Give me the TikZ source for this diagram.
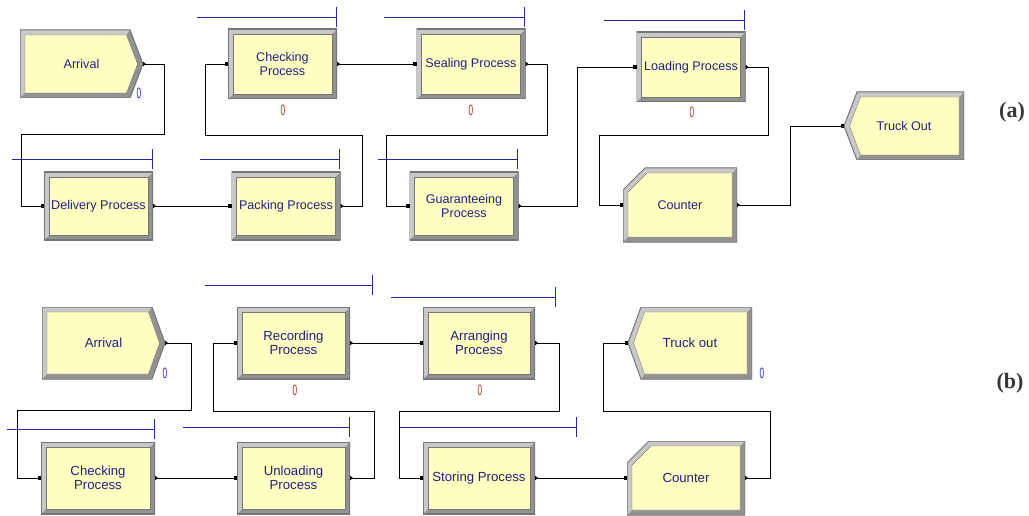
\documentclass[tikz,border=0pt]{standalone}
\usepackage{fontspec}
\setmainfont{Liberation Serif}
\setsansfont{Liberation Sans}
\usepackage{graphicx}
\usepackage{tikz}
\usetikzlibrary{arrows.meta,positioning}

\definecolor{boxfill}{RGB}{255,255,194}
\definecolor{bevlight}{RGB}{200,200,200}
\definecolor{bevdark}{RGB}{146,146,146}
\definecolor{bevedge}{RGB}{118,118,118}
\definecolor{txtblue}{RGB}{32,32,128}
\definecolor{qblue}{RGB}{40,40,165}
\definecolor{numred}{RGB}{175,55,30}
\definecolor{numblue}{RGB}{40,40,215}
\definecolor{lblgray}{RGB}{55,55,55}

% corner points of the block being drawn
\newcommand{\bbpts}{\path (path picture bounding box.south west) coordinate (sw)
  (path picture bounding box.north west) coordinate (nw)
  (path picture bounding box.north east) coordinate (ne)
  (path picture bounding box.south east) coordinate (se)
  (path picture bounding box.east) coordinate (e)
  (path picture bounding box.west) coordinate (w);}

\tikzset{
  blk/.style={inner sep=0pt, outer sep=0pt, align=center, text=txtblue,
    font=\sffamily\fontsize{12.6}{13.6}\selectfont},
  sizeA/.style={minimum width=109pt, minimum height=70pt},
  sizeB/.style={minimum width=113pt, minimum height=72pt,
    font=\sffamily\fontsize{13.2}{14.4}\selectfont},
  procbox/.style={blk, path picture={\bbpts
    \fill[bevdark] (sw) rectangle (ne);
    \fill[bevlight] (sw) -- (nw) -- (ne) -- ([shift={(-5pt,-5pt)}]ne) -- ([shift={(5pt,5pt)}]sw) -- cycle;
    \draw[bevedge, line width=1.2pt] (sw) rectangle (ne);
    \filldraw[fill=boxfill, draw=bevedge, line width=0.4pt] ([shift={(5pt,5pt)}]sw) rectangle ([shift={(-5pt,-5pt)}]ne);}},
  createbox/.style={blk, path picture={\bbpts
    \fill[bevdark] (sw) -- (nw) -- ([xshift=-13pt]ne) -- (e) -- ([xshift=-13pt]se) -- cycle;
    \fill[bevlight] (sw) -- (nw) -- ([xshift=-13pt]ne) -- ([shift={(-16.5pt,-5pt)}]ne) -- ([shift={(5pt,5pt)}]sw) -- cycle;
    \draw[bevedge, line width=1pt] (sw) -- (nw) -- ([xshift=-13pt]ne) -- (e) -- ([xshift=-13pt]se) -- cycle;
    \filldraw[fill=boxfill, draw=bevedge, line width=0.4pt] ([shift={(5pt,5pt)}]sw) -- ([shift={(5pt,-5pt)}]nw)
      -- ([shift={(-16.5pt,-5pt)}]ne) -- ([xshift=-5.5pt]e) -- ([shift={(-16.5pt,5pt)}]se) -- cycle;}},
  disposebox/.style={blk, path picture={\bbpts
    \fill[bevdark] (w) -- ([xshift=13pt]nw) -- (ne) -- (se) -- ([xshift=13pt]sw) -- cycle;
    \fill[bevlight] (w) -- ([xshift=13pt]nw) -- (ne) -- ([shift={(-5pt,-5pt)}]ne) -- ([shift={(16.5pt,5pt)}]sw) -- ([xshift=13pt]sw) -- cycle;
    \draw[bevedge, line width=1pt] (w) -- ([xshift=13pt]nw) -- (ne) -- (se) -- ([xshift=13pt]sw) -- cycle;
    \filldraw[fill=boxfill, draw=bevedge, line width=0.4pt] ([xshift=5.5pt]w) -- ([shift={(16.5pt,-5pt)}]nw)
      -- ([shift={(-5pt,-5pt)}]ne) -- ([shift={(-5pt,5pt)}]se) -- ([shift={(16.5pt,5pt)}]sw) -- cycle;}},
  countbox/.style={blk, path picture={\bbpts
    \fill[bevdark] (sw) -- ([yshift=-22pt]nw) -- ([xshift=22pt]nw) -- (ne) -- (se) -- cycle;
    \fill[bevlight] (sw) -- ([yshift=-22pt]nw) -- ([xshift=22pt]nw) -- (ne) -- ([shift={(-5pt,-5pt)}]ne) -- ([shift={(5pt,5pt)}]sw) -- cycle;
    \draw[bevedge, line width=1pt] (sw) -- ([yshift=-22pt]nw) -- ([xshift=22pt]nw) -- (ne) -- (se) -- cycle;
    \filldraw[fill=boxfill, draw=bevedge, line width=0.4pt] ([shift={(5pt,5pt)}]sw) -- ([shift={(5pt,-24pt)}]nw)
      -- ([shift={(24pt,-5pt)}]nw) -- ([shift={(-5pt,-5pt)}]ne) -- ([shift={(-5pt,5pt)}]se) -- cycle;}},
  conn/.style={draw=black, line width=0.7pt,
    {Triangle[reversed,length=3pt,width=4.5pt]}-{Square[length=3.5pt,width=3.5pt]}},
  queue/.style={draw=qblue, line width=0.8pt, -{Bar[width=20pt,line width=0.8pt]}},
  num/.style={inner sep=0pt, font=\sffamily\fontsize{15}{15}\selectfont},
  numr/.style={num, text=numred},
  numb/.style={num, text=numblue},
  sublbl/.style={inner sep=0pt, text=lblgray, font=\rmfamily\bfseries\fontsize{22}{22}\selectfont}
}

\begin{document}
\begin{tikzpicture}[x=1pt, y=-1pt]
\useasboundingbox (0,0) rectangle (1029,516);

% ---- (a) ----
\node[createbox, minimum width=123pt, minimum height=68pt] (arrA) at (81.5,64) {Arrival};
\node[procbox, sizeA] (chkA) at (282.5,64) {Checking\\Process};
\node[procbox, sizeA] (seaA) at (471,64) {Sealing Process};
\node[procbox, sizeA] (lodA) at (691,67) {Loading Process};
\node[procbox, sizeA, minimum height=68pt] (delA) at (98.5,206) {Delivery Process};
\node[procbox, sizeA, minimum height=68pt] (pacA) at (286,206) {Packing Process};
\node[procbox, sizeA, minimum height=68pt] (guaA) at (464,206) {Guaranteeing\\Process};
\node[countbox, minimum width=114pt, minimum height=74pt] (cntA) at (680,205) {Counter};
\node[disposebox, minimum width=120pt, minimum height=68pt] (trkA) at (904,126) {Truck Out};

\draw[queue] (197,17) -- (337,17);
\draw[queue] (384,17) -- (525,17);
\draw[queue] (604,20) -- (745,20);
\draw[queue] (12,159) -- (153,159);
\draw[queue] (200,159) -- (340,159);
\draw[queue] (378,159) -- (518,159);

\node[numb] (nArrA) at (139,93) {\scalebox{0.55}[1]{0}};
\node[numr] (nChkA) at (283,110) {\scalebox{0.55}[1]{0}};
\node[numr] (nSeaA) at (471,110) {\scalebox{0.55}[1]{0}};
\node[numr] (nLodA) at (692,112) {\scalebox{0.55}[1]{0}};

\draw[conn] (arrA.east) -- ++(21,0) -- ++(0,70) -- ++(-143,0) |- (delA.west);
\draw[conn] (delA.east) -- (pacA.west);
\draw[conn] (pacA.east) -- ++(22,0) -- ++(0,-71) -- ++(-157,0) |- (chkA.west);
\draw[conn] (chkA.east) -- (seaA.west);
\draw[conn] (seaA.east) -- ++(22,0) -- ++(0,71) -- ++(-161,0) |- (guaA.west);
\draw[conn] (guaA.east) -- ++(59,0) |- (lodA.west);
\draw[conn] (lodA.east) -- ++(23,0) -- ++(0,68) -- ++(-169,0) |- (cntA.west);
\draw[conn] (cntA.east) -- ++(53,0) |- (trkA.west);

\node[sublbl] (la) at (1012,112) {(a)};

% ---- (b) ----
\node[createbox, sizeB, minimum width=123pt] (arrB) at (103.5,343) {Arrival};
\node[procbox, sizeB] (recB) at (293.5,343) {Recording\\Process};
\node[procbox, sizeB, minimum width=112pt] (argB) at (479,343) {Arranging\\Process};
\node[disposebox, sizeB, minimum width=124pt] (trkB) at (690,343) {Truck out};
\node[procbox, sizeB, minimum width=114pt] (chkB) at (98,478) {Checking\\Process};
\node[procbox, sizeB] (unlB) at (293.5,478) {Unloading\\Process};
\node[procbox, sizeB, minimum width=112pt] (stoB) at (479,478) {Storing Process};
\node[countbox, sizeB, minimum width=118pt, minimum height=74pt] (cntB) at (686,478) {Counter};

\draw[queue] (205,285) -- (373,285);
\draw[queue] (391,297) -- (556,297);
\draw[queue] (7,429) -- (155,429);
\draw[queue] (183,427) -- (350,427);
\draw[queue] (399,427) -- (577,427);

\node[numb] (nArrB) at (165,373) {\scalebox{0.55}[1]{0}};
\node[numr] (nRecB) at (295,390) {\scalebox{0.55}[1]{0}};
\node[numr] (nArgB) at (480,390) {\scalebox{0.55}[1]{0}};
\node[numb] (nTrkB) at (762,373) {\scalebox{0.55}[1]{0}};

\draw[conn] (arrB.east) -- ++(26,0) -- ++(0,67) -- ++(-174,0) |- (chkB.west);
\draw[conn] (chkB.east) -- (unlB.west);
\draw[conn] (unlB.east) -- ++(24,0) -- ++(0,-67) -- ++(-161,0) |- (recB.west);
\draw[conn] (recB.east) -- (argB.west);
\draw[conn] (argB.east) -- ++(24,0) -- ++(0,68) -- ++(-160,0) |- (stoB.west);
\draw[conn] (stoB.east) -- (cntB.west);
\draw[conn] (cntB.east) -- ++(25,0) -- ++(0,-67) -- ++(-167,0) |- (trkB.west);

\node[sublbl] (lb) at (1010,383) {(b)};
\end{tikzpicture}
\end{document}
